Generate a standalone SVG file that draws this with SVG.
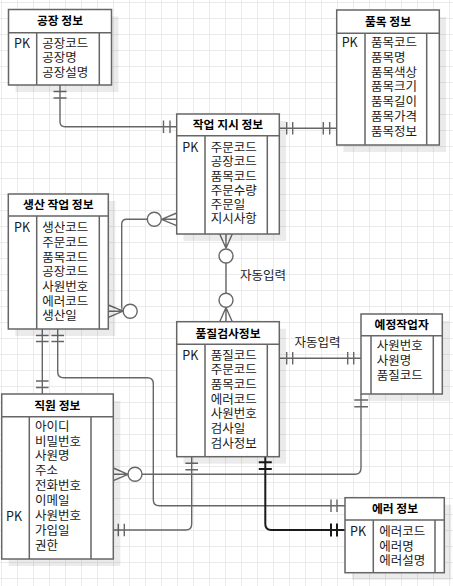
<svg xmlns="http://www.w3.org/2000/svg" width="453" height="586" viewBox="0 0 453 586">
<defs>
<pattern id="grid" x="1" y="2" width="16" height="16" patternUnits="userSpaceOnUse">
<path d="M0.5,0 V16 M0,0.5 H16" stroke="#ebebeb" stroke-width="1" fill="none"/>
</pattern>
<style>
.sh{fill:#000;fill-opacity:0.08}
.box{fill:#fff;stroke:#666;stroke-width:1.5}
.ln{stroke:#666;stroke-width:1.5;fill:none}
.t{font-family:"Noto Sans CJK KR","Liberation Sans",sans-serif;font-size:12.5px;fill:#1a1a1a}
.h{font-weight:bold;font-size:11.8px;text-anchor:middle;fill:#000}
.e{stroke:#666;stroke-width:1.4;fill:none}
.ed{stroke:#1a1a1a;stroke-width:2;fill:none}
.c{stroke:#666;stroke-width:1.4;fill:#fff}
</style>
</defs>
<rect width="453" height="586" fill="#fff"/>
<rect width="453" height="586" fill="url(#grid)"/>

<g id="connectors">
<path class="e" d="M60,85 V121.7 Q60,126.7 65,126.7 H176.7"/>
<path class="e" d="M53.5,91.5 H66.5 M53.5,98 H66.5 M163.5,120.5 V133 M170,120.5 V133"/>
<path class="e" d="M279.3,128.3 H336.7"/>
<path class="e" d="M286.7,122 V134.6 M292.7,122 V134.6 M323.3,122 V134.6 M329.7,122 V134.6"/>
<path class="e" d="M147,219.3 H126.7 Q121.7,219.3 121.7,224.3 V305 Q121.7,311 123,311"/>
<circle class="c" cx="154.3" cy="219.3" r="7"/>
<path class="e" d="M161.5,219.3 L176.7,213 M161.5,219.3 H176.7 M161.5,219.3 L176.7,225.6"/>
<circle class="c" cx="130.2" cy="311.2" r="7"/>
<path class="e" d="M123,311.2 L108.3,305 M123,311.2 H108.3 M123,311.2 L108.3,317.4"/>
<path class="e" d="M226,248.3 L219.7,234 M226,248.3 V234 M226,248.3 L232.3,234"/>
<circle class="c" cx="226" cy="256" r="7"/>
<path class="e" d="M226,263 V293.3"/>
<circle class="c" cx="226" cy="300.3" r="7"/>
<path class="e" d="M226,307.5 L219.7,321.7 M226,307.5 V321.7 M226,307.5 L232.3,321.7"/>
<path class="e" d="M279.3,358.3 H361"/>
<path class="e" d="M286.7,352 V364.6 M292.7,352 V364.6 M347.7,352 V364.6 M353.7,352 V364.6"/>
<path class="e" d="M361,394 V468 Q361,474.3 355,474.3 H142.2"/>
<path class="e" d="M354.3,400 H368 M354.3,406.7 H368"/>
<circle class="c" cx="135" cy="474.3" r="7"/>
<path class="e" d="M128,474.3 L113.3,468 M128,474.3 H113.3 M128,474.3 L113.3,480.6"/>
<path class="e" d="M42.3,329 V394"/>
<path class="e" d="M36,335.5 H48.6 M36,341.5 H48.6 M36,381 H48.6 M36,387.5 H48.6"/>
<path class="e" d="M57.7,329 V371.7 Q57.7,377.7 63.7,377.7 H147.3 Q153.3,377.7 153.3,383.7 V499.7 Q153.3,505.7 159.3,505.7 H345"/>
<path class="e" d="M51.4,335.5 H64 M51.4,341.5 H64 M331,499.4 V512 M337,499.4 V512"/>
<path class="e" d="M113.3,530 H185.7 Q191.7,530 191.7,524 V456.7"/>
<path class="e" d="M118.3,523.7 V536.3 M124.3,523.7 V536.3 M185.4,463.3 H198 M185.4,469.8 H198"/>
<path class="ed" d="M265.3,456.7 V524 Q265.3,530 271.3,530 H345"/>
<path class="ed" d="M258.8,462.3 H271.8 M258.8,469 H271.8 M331,523.5 V536.5 M337,523.5 V536.5"/>
<text class="t" x="240" y="279.5">자동입력</text>
<text class="t" x="294.5" y="346.8">자동입력</text>
</g>

<g id="factory">
<rect class="sh" x="15.5" y="16.5" width="103" height="75.5"/>
<rect class="box" x="8.5" y="9.5" width="103" height="75.5"/>
<path class="ln" d="M8.5,32.7 H111.5 M36.7,32.7 V85 M99.3,32.7 V85"/>
<text class="t h" x="60" y="25">공장 정보</text>
<text class="t" x="14" y="48.2">PK</text>
<text class="t" x="42.3" y="48.2">공장코드</text>
<text class="t" x="42.3" y="62.4">공장명</text>
<text class="t" x="42.3" y="76.9">공장설명</text>
</g>

<g id="product">
<rect class="sh" x="343.5" y="17" width="102.6" height="135"/>
<rect class="box" x="336.7" y="10" width="102.6" height="135"/>
<path class="ln" d="M336.7,33.3 H439.3 M365,33.3 V145 M426.7,33.3 V145"/>
<text class="t h" x="388" y="26">품목 정보</text>
<text class="t" x="341.7" y="47.3">PK</text>
<text class="t" x="371" y="47.3">품목코드</text>
<text class="t" x="371" y="62">품목명</text>
<text class="t" x="371" y="76.7">품목색상</text>
<text class="t" x="371" y="91.4">품목크기</text>
<text class="t" x="371" y="106.1">품목길이</text>
<text class="t" x="371" y="120.8">품목가격</text>
<text class="t" x="371" y="135.5">품목정보</text>
</g>

<g id="workorder">
<rect class="sh" x="183.5" y="121" width="102.6" height="120"/>
<rect class="box" x="176.7" y="114" width="102.6" height="120"/>
<path class="ln" d="M176.7,135.7 H279.3 M205,135.7 V234 M267.3,135.7 V234"/>
<text class="t h" x="228" y="129.3">작업 지시 정보</text>
<text class="t" x="182.3" y="152.2">PK</text>
<text class="t" x="210.7" y="152.2">주문코드</text>
<text class="t" x="210.7" y="166.4">공장코드</text>
<text class="t" x="210.7" y="180.6">품목코드</text>
<text class="t" x="210.7" y="194.8">주문수량</text>
<text class="t" x="210.7" y="209">주문일</text>
<text class="t" x="210.7" y="223.2">지시사항</text>
</g>

<g id="production">
<rect class="sh" x="15.3" y="201" width="100" height="135"/>
<rect class="box" x="8.3" y="194" width="100" height="135"/>
<path class="ln" d="M8.3,216 H108.3 M36.7,216 V329 M99.3,216 V329"/>
<text class="t h" x="58.3" y="209.3">생산 작업 정보</text>
<text class="t" x="14" y="232.2">PK</text>
<text class="t" x="42.3" y="232.2">생산코드</text>
<text class="t" x="42.3" y="246.9">주문코드</text>
<text class="t" x="42.3" y="261.6">품목코드</text>
<text class="t" x="42.3" y="276.3">공장코드</text>
<text class="t" x="42.3" y="291">사원번호</text>
<text class="t" x="42.3" y="305.7">에러코드</text>
<text class="t" x="42.3" y="320.4">생산일</text>
</g>

<g id="quality">
<rect class="sh" x="183.5" y="328.7" width="102.6" height="135"/>
<rect class="box" x="176.7" y="321.7" width="102.6" height="135"/>
<path class="ln" d="M176.7,344.3 H279.3 M205,344.3 V456.7 M267.3,344.3 V456.7"/>
<text class="t h" x="228" y="337.5">품질검사정보</text>
<text class="t" x="182.3" y="359.5">PK</text>
<text class="t" x="210.7" y="359.5">품질코드</text>
<text class="t" x="210.7" y="374.2">주문코드</text>
<text class="t" x="210.7" y="388.9">품목코드</text>
<text class="t" x="210.7" y="403.6">에러코드</text>
<text class="t" x="210.7" y="418.3">사원번호</text>
<text class="t" x="210.7" y="433">검사일</text>
<text class="t" x="210.7" y="447.7">검사정보</text>
</g>

<g id="scheduled">
<rect class="sh" x="368" y="321" width="81.3" height="80"/>
<rect class="box" x="361" y="314" width="81.3" height="80"/>
<path class="ln" d="M361,335.7 H442.3 M371,335.7 V394 M433.3,335.7 V394"/>
<text class="t h" x="401.7" y="329.3">예정작업자</text>
<text class="t" x="376.7" y="350.2">사원번호</text>
<text class="t" x="376.7" y="365.2">사원명</text>
<text class="t" x="376.7" y="380.4">품질코드</text>
</g>

<g id="employee">
<rect class="sh" x="8.7" y="401" width="111.6" height="165"/>
<rect class="box" x="1.7" y="394" width="111.6" height="165"/>
<path class="ln" d="M1.7,416.7 H113.3 M29.3,416.7 V559 M91,416.7 V559"/>
<text class="t h" x="57.3" y="410">직원 정보</text>
<text class="t" x="6" y="520.5">PK</text>
<text class="t" x="35" y="430.5">아이디</text>
<text class="t" x="35" y="445.5">비밀번호</text>
<text class="t" x="35" y="460.4">사원명</text>
<text class="t" x="35" y="475.4">주소</text>
<text class="t" x="35" y="490.4">전화번호</text>
<text class="t" x="35" y="505.3">이메일</text>
<text class="t" x="35" y="520.3">사원번호</text>
<text class="t" x="35" y="535.2">가입일</text>
<text class="t" x="35" y="550.2">권한</text>
</g>

<g id="error">
<rect class="sh" x="352" y="504.7" width="99.3" height="75"/>
<rect class="box" x="345" y="497.7" width="99.3" height="75"/>
<path class="ln" d="M345,520 H444.3 M373.3,520 V572.7 M435,520 V572.7"/>
<text class="t h" x="395" y="513.3">에러 정보</text>
<text class="t" x="350" y="536">PK</text>
<text class="t" x="379.3" y="536">에러코드</text>
<text class="t" x="379.3" y="550.5">에러명</text>
<text class="t" x="379.3" y="565">에러설명</text>
</g>
</svg>
